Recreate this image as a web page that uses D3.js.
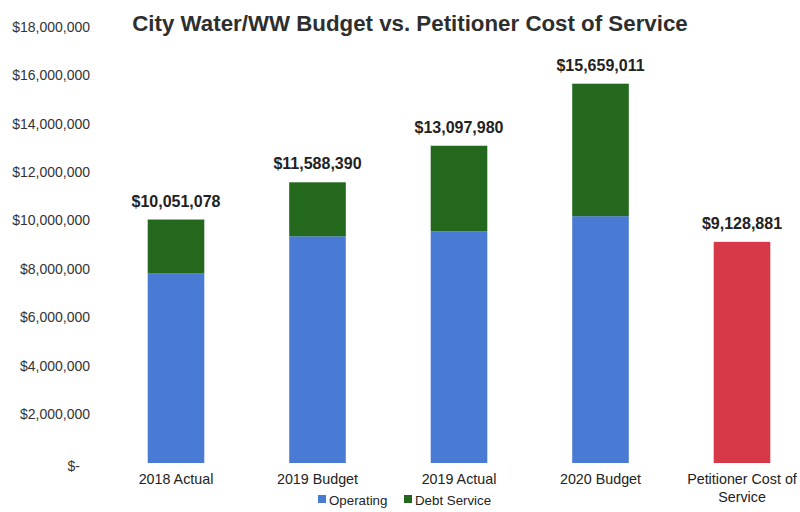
<!DOCTYPE html>
<html>
<head>
<meta charset="utf-8">
<script src="https://cdn.jsdelivr.net/npm/d3@7"></script>
<style>
  body { margin: 0; background: #fff; }
  svg text { font-family: "Liberation Sans", Arial, sans-serif; fill: #222; }
</style>
</head>
<body>
<div id="chart"></div>
<script>
const categories = ["2018 Actual", "2019 Budget", "2019 Actual", "2020 Budget", "Petitioner Cost of Service"];
const operating = [7820000, 9360000, 9570000, 10190000, 0];
const debtService = [2231078, 2228390, 3527980, 5469011, 0];
const petitioner = [0, 0, 0, 0, 9128881];
const totals = [10051078, 11588390, 13097980, 15659011, 9128881];
const yTicks = [0, 2000000, 4000000, 6000000, 8000000, 10000000, 12000000, 14000000, 16000000, 18000000];
const seriesNames = ["Operating", "Debt Service"];

const width = 800;
const height = 512;
const colors = { operating: "#4a7bd4", debt: "#23681c", petitioner: "#d63848" };

const svg = d3.select("#chart")
  .append("svg")
  .attr("width", width)
  .attr("height", height);

const x = d3.scaleBand()
  .domain(categories)
  .range([105.25, 812.75])
  .paddingInner(0.6)
  .paddingOuter(0.3);

const y = d3.scaleLinear()
  .domain([0, 18000000])
  .range([463, 27]);

// title
svg.append("text")
  .attr("x", 410)
  .attr("y", 31)
  .attr("text-anchor", "middle")
  .attr("font-size", 22.3)
  .attr("font-weight", "bold")
  .style("fill", "#2e2e2e")
  .text("City Water/WW Budget vs. Petitioner Cost of Service");

// y axis, labels only
const fmt = d3.format(",");
const yAxis = svg.append("g")
  .attr("transform", "translate(90,0)")
  .call(d3.axisLeft(y).tickValues(yTicks).tickSize(0).tickPadding(0)
    .tickFormat((d) => (d === 0 ? "$-" : "$" + fmt(d))));
yAxis.select(".domain").remove();
yAxis.selectAll("text")
  .attr("font-size", 14)
  .attr("dx", (d) => (d === 0 ? -10 : 0))
  .attr("dy", (d) => (d === 0 ? "0.55em" : "0.3em"))
  .style("fill", "#333");

// stacked bars
const rows = categories.map((c, i) => ({
  cat: c,
  operating: operating[i],
  debt: debtService[i],
  petitioner: petitioner[i],
}));
const stack = d3.stack().keys(["operating", "debt", "petitioner"]);
const layers = stack(rows);

svg.append("g")
  .selectAll("g")
  .data(layers)
  .join("g")
  .attr("fill", (d) => colors[d.key])
  .selectAll("rect")
  .data((d) => d.filter((p) => p[1] > p[0]))
  .join("rect")
  .attr("x", (d) => x(d.data.cat))
  .attr("y", (d) => y(d[1]))
  .attr("width", x.bandwidth())
  .attr("height", (d) => y(d[0]) - y(d[1]));

// total labels
svg.append("g")
  .selectAll("text")
  .data(categories)
  .join("text")
  .attr("x", (d) => x(d) + x.bandwidth() / 2)
  .attr("y", (d, i) => y(totals[i]) - 13)
  .attr("text-anchor", "middle")
  .attr("font-size", 16)
  .attr("font-weight", "bold")
  .text((d, i) => "$" + fmt(totals[i]));

// category labels
const catLines = {
  "Petitioner Cost of Service": ["Petitioner Cost of", "Service"],
};
svg.append("g")
  .selectAll("text")
  .data(categories)
  .join("text")
  .attr("x", (d) => x(d) + x.bandwidth() / 2)
  .attr("y", 484)
  .attr("text-anchor", "middle")
  .attr("font-size", 14.3)
  .each(function (d) {
    const lines = catLines[d] || [d];
    d3.select(this)
      .selectAll("tspan")
      .data(lines)
      .join("tspan")
      .attr("x", x(d) + x.bandwidth() / 2)
      .attr("dy", (l, j) => (j === 0 ? 0 : 18))
      .text((l) => l);
  });

// legend
const legendX = [318, 404];
const legend = svg.append("g")
  .selectAll("g")
  .data(seriesNames)
  .join("g")
  .attr("transform", (d, i) => `translate(${legendX[i]},500)`);
legend.append("rect")
  .attr("x", 0)
  .attr("y", -5)
  .attr("width", 8)
  .attr("height", 8)
  .attr("fill", (d, i) => (i === 0 ? colors.operating : colors.debt));
legend.append("text")
  .attr("x", 11)
  .attr("y", 4.5)
  .attr("font-size", 13.3)
  .text((d) => d);
</script>
</body>
</html>
